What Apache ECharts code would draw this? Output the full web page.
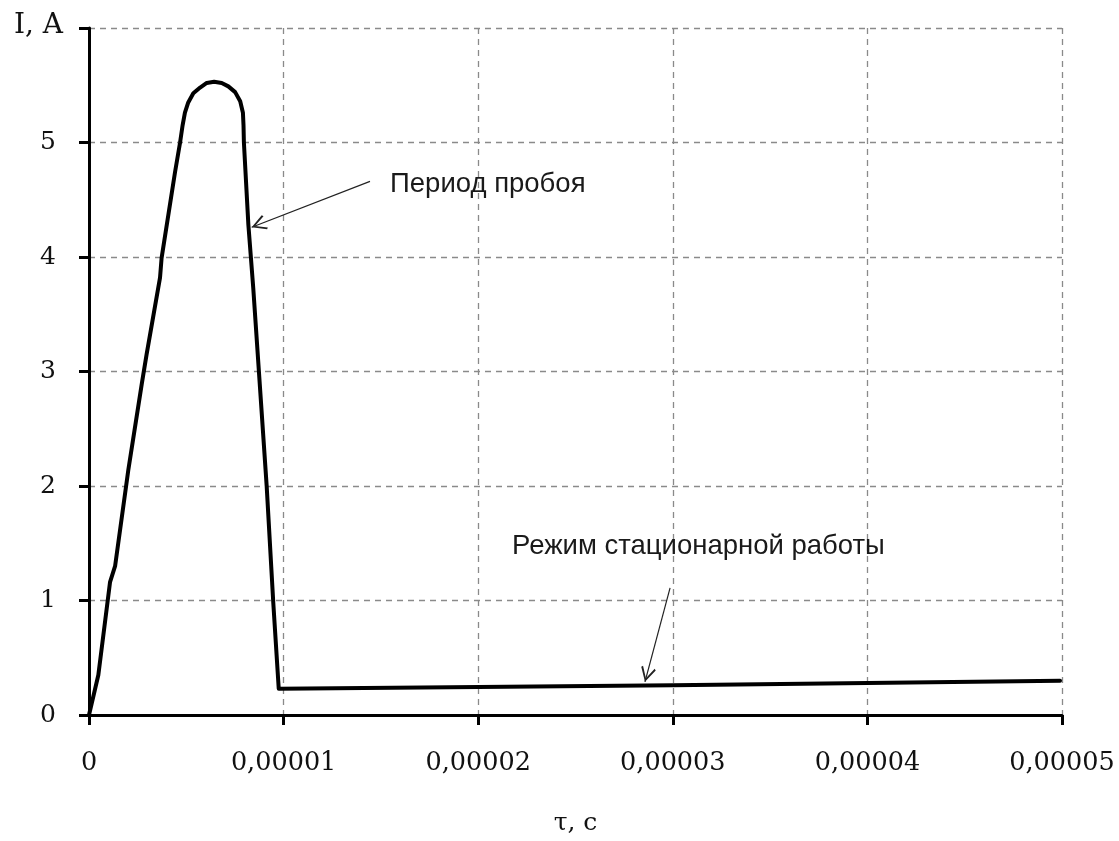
<!DOCTYPE html>
<html>
<head>
<meta charset="utf-8">
<script src="https://cdn.jsdelivr.net/npm/echarts@6/dist/echarts.min.js"></script>
<style>
html,body{margin:0;padding:0;background:#fff;}
#chart{width:1119px;height:841px;}
</style>
</head>
<body>
<div id="chart"></div>
<script>
// time in microseconds (converted to seconds below), current in A
const tauMicro = [0, 0.48, 1.08, 1.34, 2.02, 2.71, 2.96, 3.65, 3.73, 4.42,
                  4.68, 4.81, 4.93, 5.10, 5.36, 5.71, 6.05, 6.43, 6.82, 7.16,
                  7.51, 7.77, 7.91, 7.94, 7.96, 8.19, 8.44, 9.13, 9.47, 9.75,
                  20, 30, 40, 49.9];
const current  = [0, 0.35, 1.16, 1.30, 2.14, 2.89, 3.15, 3.82, 3.99, 4.74,
                  5.00, 5.15, 5.26, 5.35, 5.43, 5.48, 5.52, 5.53, 5.52, 5.49,
                  5.44, 5.36, 5.26, 5.15, 5.00, 4.28, 3.73, 2.00, 0.98, 0.23,
                  0.245, 0.26, 0.28, 0.30];
const yTicks = [0, 1, 2, 3, 4, 5, 6];
const xTicks = [0, 0.00001, 0.00002, 0.00003, 0.00004, 0.00005];

// annotations (data coordinates)
const note1Text = 'Период пробоя';
const note1Pos = [15.47e-6, 4.63];
const arrow1 = [[14.44e-6, 4.66], [8.36e-6, 4.26]];
const note2Text = 'Режим стационарной работы';
const note2Pos = [21.74e-6, 1.47];
const arrow2 = [[29.86e-6, 1.11], [28.57e-6, 0.29]];

const data = tauMicro.map((t, i) => [t * 1e-6, current[i]]);

const chevron = 'path://M5,-11 L5.01,-11 L5,-10.99 Z M5,0 L10,10 L9,11 L5,2.6 L1,11 L0,10 Z';

const chart = echarts.init(document.getElementById('chart'));
chart.setOption({
  animation: false,
  backgroundColor: '#fff',
  grid: {left: 89, right: 57, top: 28, bottom: 121, containLabel: false},
  xAxis: {
    type: 'value',
    min: xTicks[0], max: xTicks[xTicks.length - 1], interval: 0.00001,
    name: 'τ, с',
    nameLocation: 'middle',
    nameGap: 96,
    nameTextStyle: {fontFamily: 'DejaVu Serif', fontSize: 25, color: '#111'},
    axisLine: {show: true, onZero: false, lineStyle: {color: '#000', width: 3}},
    axisTick: {show: true, inside: false, length: 10, lineStyle: {color: '#000', width: 3}},
    axisLabel: {
      margin: 35,
      fontFamily: 'DejaVu Serif', fontSize: 25.5, color: '#111',
      formatter: v => v === 0 ? '0' : v.toFixed(5).replace('.', ',')
    },
    splitLine: {show: true, lineStyle: {color: '#8a8a8a', width: 1.3, type: [6, 5]}}
  },
  yAxis: {
    type: 'value',
    min: yTicks[0], max: yTicks[yTicks.length - 1], interval: 1,
    name: 'I, A',
    nameLocation: 'end',
    nameGap: 2,
    nameTextStyle: {fontFamily: 'DejaVu Serif', fontSize: 28, color: '#111', align: 'right', verticalAlign: 'middle', padding: [0, 26, 0, 0]},
    axisLine: {show: true, onZero: false, lineStyle: {color: '#000', width: 3}},
    axisTick: {show: true, inside: false, length: 10, lineStyle: {color: '#000', width: 3}},
    axisLabel: {
      margin: 33,
      fontFamily: 'DejaVu Serif', fontSize: 25, color: '#111',
      formatter: v => v >= 6 ? '' : String(v)
    },
    splitLine: {show: true, lineStyle: {color: '#8a8a8a', width: 1.3, type: [6, 5]}}
  },
  series: [{
    type: 'line',
    data: data,
    showSymbol: false,
    symbol: 'none',
    lineStyle: {color: '#000', width: 4, cap: 'round', join: 'round'},
    z: 5,
    markLine: {
      silent: true,
      symbol: ['none', chevron],
      symbolSize: [15, 30],
      label: {show: false},
      lineStyle: {color: '#222', width: 1.2, type: 'solid'},
      data: [
        [{coord: arrow1[0]}, {coord: arrow1[1]}],
        [{coord: arrow2[0]}, {coord: arrow2[1]}]
      ]
    },
    markPoint: {
      silent: true,
      symbol: 'circle',
      symbolSize: 0,
      label: {
        show: true, position: 'inside', align: 'left', verticalAlign: 'middle',
        fontFamily: 'Liberation Sans', fontSize: 27.5, color: '#1a1a1a'
      },
      data: [
        {coord: note1Pos, value: note1Text, label: {formatter: note1Text}},
        {coord: note2Pos, value: note2Text, label: {formatter: note2Text}}
      ]
    }
  }]
});
</script>
</body>
</html>
